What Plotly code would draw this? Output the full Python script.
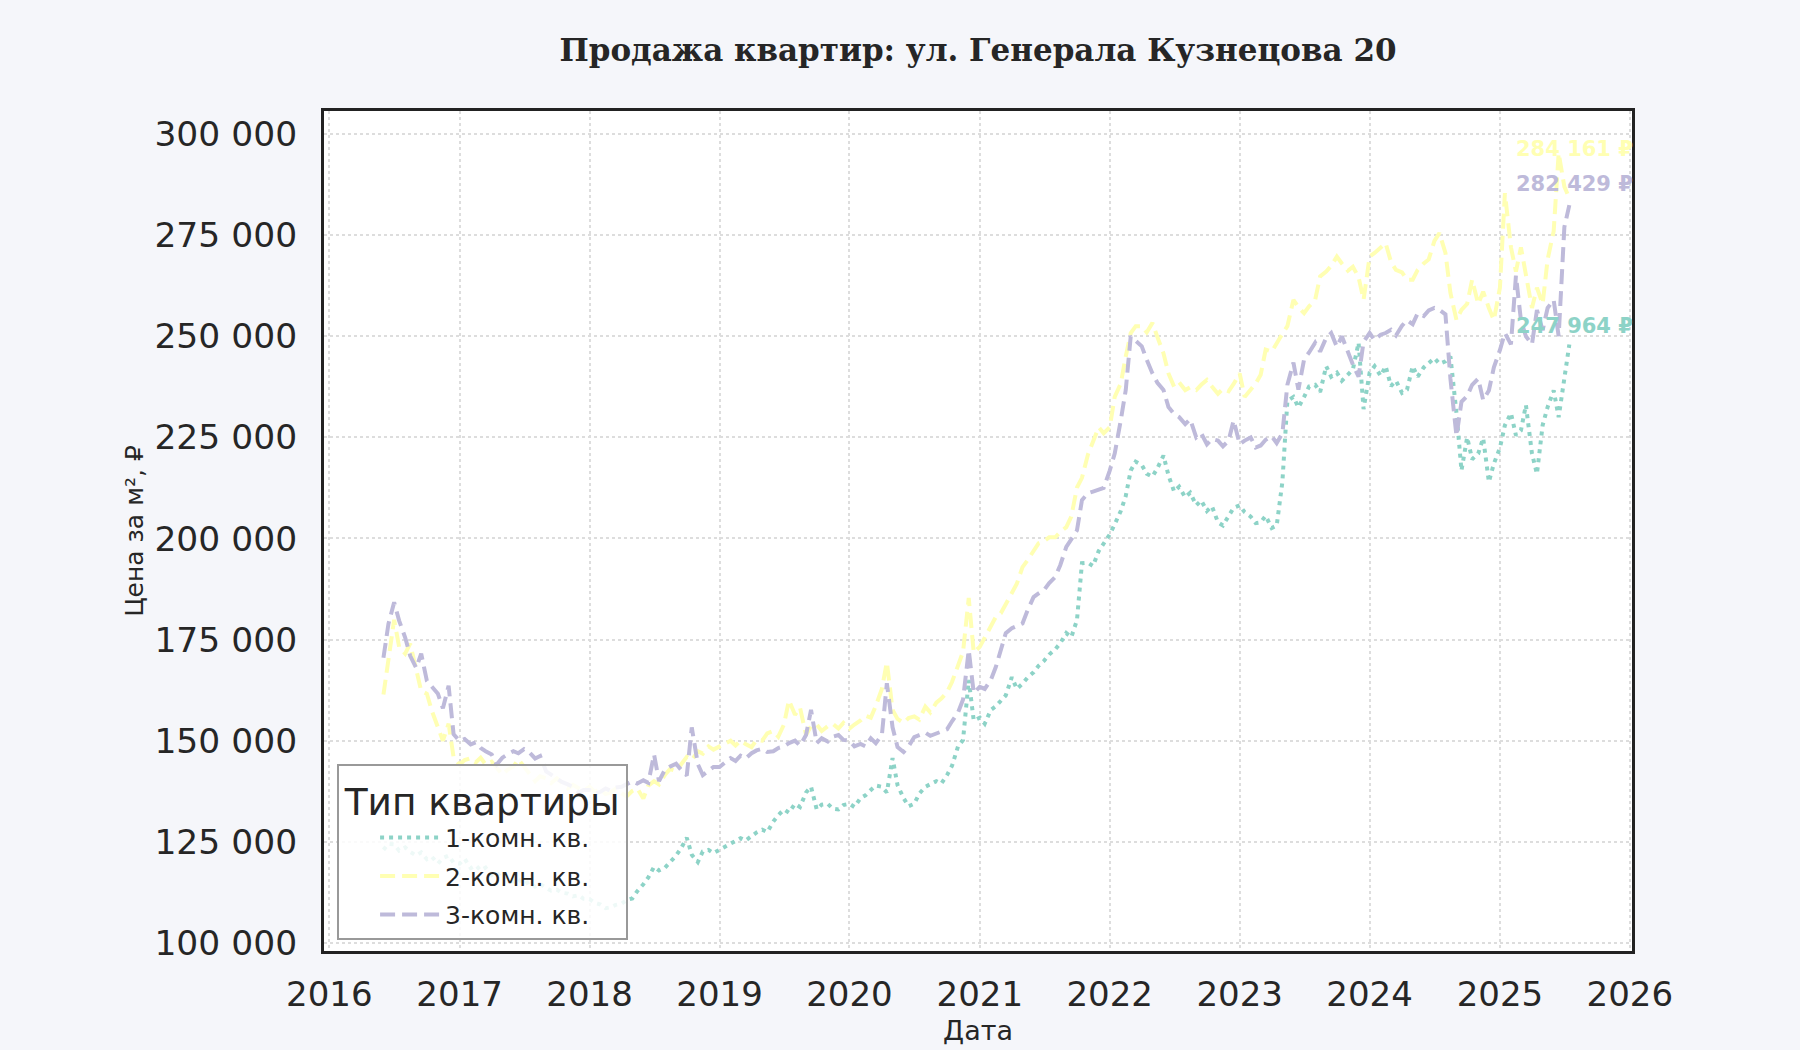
import pandas as pd
import plotly.graph_objects as go

# ---------------- data ----------------
dates = pd.date_range("2016-06-01", "2025-07-15", freq="SMS")  # 1st and 15th of each month

series_names = ["1-комн. кв.", "2-комн. кв.", "3-комн. кв."]

one_room = [
    # 2016 Jun-Dec
    123000, 124500, 124400, 122800, 123600, 122500, 121600, 122400, 120700, 121300, 119600, 121000, 121600, 119800,
    # 2017
    119600, 120800, 118500, 119200, 117900, 118600, 116800, 117400, 115900, 116500, 115200, 115800,
    114500, 115100, 113900, 114600, 113600, 112900, 113200, 112400, 112200, 111500, 111800, 110900,
    # 2018
    110800, 109900, 109500, 108600, 108800, 109400, 109700, 110600, 111000, 112800, 114500, 116200,
    118800, 117900, 118600, 119800, 121600, 123400, 126000, 121800, 120000, 122600, 123000, 122200,
    # 2019
    123000, 123800, 124400, 125100, 125900, 125300, 126400, 127300, 128000, 127400, 130000, 131600,
    133000, 132200, 134400, 133600, 137200, 138600, 133000, 134200, 134400, 133200, 133000, 134100,
    # 2020
    134400, 133600, 135800, 136500, 137800, 138900, 138600, 137200, 145700, 139000, 135800, 133800,
    134400, 136900, 138600, 139300, 140000, 139400, 141500, 143800, 148600, 150200, 165000, 155000,
    # 2021
    155700, 154200, 157600, 158500, 160000, 161200, 165700, 162800, 164100, 165600, 166900, 168500,
    169800, 171300, 172600, 174100, 176600, 175600, 179800, 193900, 194000, 193200, 196900, 198800,
    # 2022
    201000, 203500, 206800, 210500, 216800, 219000, 218200, 216000, 215300, 217400, 220500, 215600,
    211600, 212800, 210200, 211300, 208200, 209400, 206800, 208000, 204000, 203200, 205400, 207600,
    # 2023
    208200, 206500, 205400, 203800, 204000, 205600, 202600, 203200, 214000, 234000, 235000, 232400,
    235000, 237600, 238000, 236200, 242600, 240000, 241000, 239000, 240500, 241800, 248400, 232000,
    # 2024
    241000, 242600, 240200, 242600, 237700, 239000, 236000, 236800, 242600, 240000, 242300, 243500,
    244600, 243200, 243800, 245000, 231000, 216800, 225000, 219600, 221000, 224800, 214000, 218500,
    # 2025 Jan-Jul
    222400, 228000, 231000, 225500, 226700, 233000, 221000, 216000, 228000, 232500, 236600, 230000,
    240500, 247964,
]

two_room = [
    # 2016 Jun-Dec
    161400, 169900, 179900, 173200, 171500, 174000, 167300, 162300, 161600, 157400, 153300, 150000, 154200, 145900,
    # 2017
    144100, 145200, 145700, 144600, 145800, 144100, 144800, 143200, 141600, 142800, 143600, 145400,
    143600, 142000, 140000, 141200, 140700, 139500, 140700, 139600, 138200, 139100, 138200, 137600,
    # 2018
    138600, 137400, 138000, 136800, 137200, 138100, 137000, 136200, 137600, 138200, 135700, 138900,
    140000, 139200, 141600, 143000, 142500, 144300, 146000, 145200, 147400, 146800, 148600, 147800,
    # 2019
    148600, 149400, 150000, 148800, 150000, 149200, 148400, 150200, 150000, 151800, 152400, 151000,
    154000, 160000, 156400, 158200, 151400, 153600, 154000, 152400, 153600, 154200, 153000, 154400,
    # 2020
    153000, 154000, 155000, 156200, 155700, 158600, 162800, 169400, 157600, 155400, 154400, 155600,
    156000, 155200, 158400, 157000, 159400, 160400, 162000, 164500, 168500, 172000, 185300, 171800,
    # 2021
    173200, 175400, 178000, 180600, 181500, 184000, 186500, 188800, 192900, 194600, 196800, 198800,
    199400, 200300, 200300, 201600, 202800, 205400, 212600, 215000, 220800, 224000, 227500, 226000,
    # 2022
    227500, 235000, 238300, 245000, 250800, 252500, 252500, 251000, 253300, 249800, 245800, 240800,
    237500, 238600, 236700, 237400, 236700, 238000, 239200, 237600, 235800, 237000, 236400, 238200,
    # 2023
    240800, 235000, 236800, 238300, 240500, 246700, 246200, 248400, 250600, 252500, 259000, 257200,
    255700, 257400, 259000, 264800, 266000, 267400, 269700, 268000, 266200, 267200, 264600, 259000,
    # 2024
    269700, 270600, 271800, 273000, 268400, 266400, 265800, 264000, 264000, 266400, 268000, 269000,
    273600, 275500, 270600, 260700, 254000, 256500, 258000, 264000, 258000, 261000, 257000, 254000,
    # 2025 Jan-Jul
    262000, 285400, 272000, 266000, 272000, 264600, 257000, 262000, 258000, 269000, 276000, 295300,
    287000, 284161,
]

three_room = [
    # 2016 Jun-Dec
    170500, 178900, 184200, 179700, 175500, 171000, 168000, 171500, 164800, 163200, 161600, 158000, 163600, 151600,
    # 2017
    149900, 150400, 149100, 149600, 148200, 147400, 146600, 144100, 145800, 146600, 147400, 146900,
    147900, 147200, 145600, 146200, 142400, 141600, 140700, 139800, 139200, 138600, 137200, 137800,
    # 2018
    137800, 136900, 137400, 138200, 137600, 138400, 138600, 139200, 140000, 139400, 140200, 139600,
    146600, 140000, 142900, 143600, 144300, 142800, 141400, 153300, 144200, 141500, 142600, 143500,
    # 2019
    143500, 144600, 145700, 145000, 146300, 145600, 146900, 147600, 148000, 147200, 147400, 148200,
    148600, 149400, 150000, 148800, 151400, 157600, 149400, 150600, 149800, 151000, 151400, 150200,
    # 2020
    150000, 148600, 149200, 148600, 150600, 149400, 151400, 164200, 153300, 148400, 147200, 148600,
    150900, 151400, 152000, 151200, 151800, 152400, 152800, 154800, 157000, 160200, 172400, 161800,
    # 2021
    163300, 162800, 165000, 168200, 172000, 176600, 177800, 178400, 179000, 182200, 185500, 186400,
    187300, 189000, 190500, 193400, 197900, 199800, 202000, 209500, 211200, 211600, 212000, 212500,
    # 2022
    216800, 221000, 229200, 236700, 250000, 249000, 247500, 244200, 240800, 238500, 236700, 232500,
    230800, 230000, 228300, 229500, 225000, 226000, 223300, 224600, 224200, 222800, 224200, 229200,
    # 2023
    223300, 224200, 225000, 222500, 223000, 224400, 225300, 223600, 226000, 238000, 243500, 236800,
    244300, 246000, 248400, 246200, 249600, 250800, 247400, 250000, 245900, 243000, 240000, 248600,
    # 2024
    250800, 249000, 250400, 250800, 251600, 250200, 252600, 254000, 253000, 255700, 255000, 256400,
    257000, 256500, 255400, 239500, 225300, 233800, 235200, 238000, 239500, 234200, 236600, 242300,
    # 2025 Jan-Jul
    246600, 250800, 248000, 265000, 254000, 250000, 248000, 256500, 251500, 257000, 259000, 250000,
    277000, 282429,
]

y_ticks = [100000, 125000, 150000, 175000, 200000, 225000, 250000, 275000, 300000]

# ---------------- styles ----------------
colors = ["#8dd3c7", "#ffffb3", "#bebada"]
dashes = ["4px,5px", "15px,7px", "15px,7px"]
label_shift = [19, 49, 21]

FONT = "DejaVu Sans, Noto Sans, sans-serif"
INK = "#262626"
PAD = "\u00a0" * 4  # widens legend box to match reference padding

fig = go.Figure()
all_series = [one_room, two_room, three_room]
for i, (name, vals, col, dash) in enumerate(zip(series_names, all_series, colors, dashes)):
    assert len(vals) == len(dates), (name, len(vals), len(dates))
    fig.add_trace(go.Scatter(
        x=dates, y=vals, mode="lines", name=name + PAD, legendgroup=f"g{i}",
        line=dict(color=col, width=4, dash=dash),
    ))

# last-value labels
for vals, col, ys in zip(all_series, colors, label_shift):
    v = vals[-1]
    txt = f"{v:,}".replace(",", " ") + " ₽"
    fig.add_annotation(
        x=dates[-1], y=v, text=txt, showarrow=False,
        xanchor="center", yanchor="middle", yshift=ys, xshift=5,
        font=dict(family=FONT, size=21, color=col, weight="bold"),
    )

fig.update_layout(
    width=1800, height=1050,
    paper_bgcolor="#f5f6fa", plot_bgcolor="white",
    margin=dict(l=324, r=168, t=111, b=99, autoexpand=False),
    separators=". ",
    title=dict(
        text="Продажа квартир: ул. Генерала Кузнецова 20",
        x=0.5, xref="paper", xanchor="center", y=1 - 50 / 1050, yanchor="middle",
        font=dict(family="DejaVu Serif, serif", size=31, color=INK, weight="bold"),
    ),
    showlegend=True,
    legend=dict(
        x=0.01, y=0.013, xanchor="left", yanchor="bottom",
        bgcolor="rgba(255,255,255,0.85)", bordercolor="#999999", borderwidth=2,
        font=dict(family=FONT, size=25, color=INK),
        title=dict(text="Тип квартиры", side="top center",
                   font=dict(family=FONT, size=37.5, color=INK)),
        itemwidth=60, indentation=36, tracegroupgap=3, traceorder="grouped",
    ),
)

fig.update_xaxes(
    range=["2015-12-17", "2026-01-07"],
    tickformat="%Y", dtick="M12", tick0="2016-01-01",
    showgrid=True, gridcolor="#dddddd", griddash="dot", gridwidth=2,
    showline=True, linecolor="#222222", linewidth=3, mirror=True,
    ticks="", ticklabelstandoff=11, automargin=False,
    tickfont=dict(family=FONT, size=34, color=INK),
    title=dict(text="Дата", font=dict(family=FONT, size=27, color=INK), standoff=9),
    zeroline=False,
)
fig.update_yaxes(
    range=[98000, 305700],
    tickvals=y_ticks, tickformat=",d",
    showgrid=True, gridcolor="#dddddd", griddash="dot", gridwidth=2,
    showline=True, linecolor="#222222", linewidth=3, mirror=True,
    ticks="", ticklabelstandoff=17, automargin=False,
    tickfont=dict(family=FONT, size=34.5, color=INK),
    title=dict(text="Цена за м², ₽", font=dict(family=FONT, size=25, color=INK), standoff=4),
    zeroline=False,
)

fig.write_html(
    "out.html",
    config={"displayModeBar": False},
    post_script="document.body.style.margin='0';document.body.style.overflow='hidden';"
                "document.body.style.background='#f5f6fa';",
)
